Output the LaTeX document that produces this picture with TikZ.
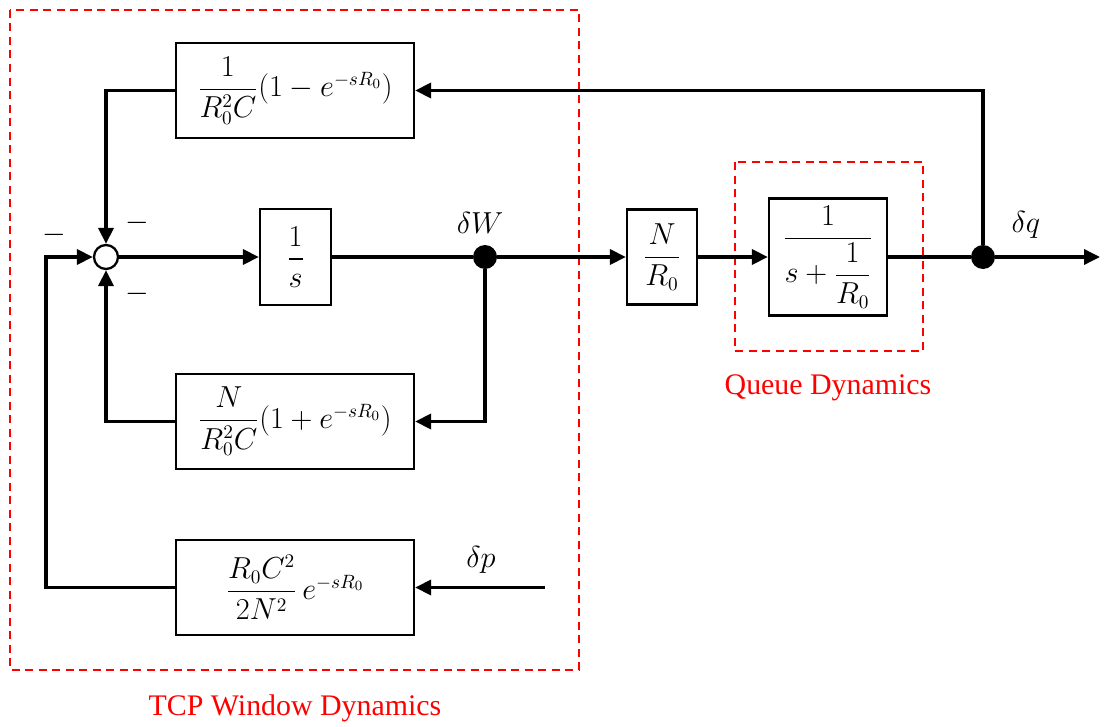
\documentclass[tikz,border=0pt]{standalone}
\usepackage{amsmath}
\usepackage{fontspec}
\newfontfamily\labelfont{Liberation Serif}
\usetikzlibrary{arrows.meta}

\tikzset{
  blk/.style={draw, line width=1.3pt, inner sep=0pt, font=\fontsize{16}{19}\selectfont},
  sig/.style={line width=2pt},
  arr/.style={sig, -{Triangle[length=3.2mm,width=3mm]}},
  pickoff/.style={circle, fill, inner sep=0pt, minimum size=4.8mm},
  redbox/.style={draw=red, line width=1.1pt, dash pattern=on 1.6mm off 1.1mm},
  redlabel/.style={text=red, font=\labelfont\fontsize{17}{20}\selectfont},
  signlabel/.style={font=\LARGE}
}

\begin{document}
\begin{tikzpicture}[x=0.2mm,y=-0.2mm]
\useasboundingbox (0,0) rectangle (1104,727);

% dashed frames
\draw[redbox] (10,10) rectangle (579,670);
\draw[redbox] (735,162) rectangle (923,351);
\node[redlabel] (tcplbl) at (295,708) {TCP Window Dynamics};
\node[redlabel] (queuelbl) at (828,388) {Queue Dynamics};

% forward path
\node[circle, draw, line width=1.3pt, fill=white, inner sep=0pt, minimum size=4.8mm] (sum) at (106,257) {};
\node[blk, minimum width=14.2mm, minimum height=19.2mm] (integ) at (295.5,257) {$\dfrac{1}{s}$};
\node[pickoff] (dW) at (485,257) {};
\node[blk, minimum width=14mm, minimum height=19mm] (gain) at (662,257) {$\dfrac{N}{R_0}$};
\node[blk, minimum width=23.6mm, minimum height=23.4mm] (queue) at (828,257) {$\dfrac{1}{s+\dfrac{1}{R_0}}$};
\node[pickoff] (dq) at (983,257) {};
\coordinate (out) at (1100,257);

% feedback blocks
\node[blk, minimum width=47.6mm, minimum height=19mm] (fbtop) at (295,90.5) {$\dfrac{1}{R_0^2C}(1-e^{-sR_0})$};
\node[blk, minimum width=47.6mm, minimum height=19mm] (fbmid) at (295,421.5) {$\dfrac{N}{R_0^2C}(1+e^{-sR_0})$};
\node[blk, minimum width=47.6mm, minimum height=19mm] (fbbot) at (295,587.5) {$\dfrac{R_0C^2}{2N^2}\,e^{-sR_0}$};
\coordinate (dp) at (545,587.5);
\coordinate (lft) at (46,587.5);

% signal labels
\node[font=\LARGE] (dWlbl) at (480,223) {$\delta W$};
\node[font=\LARGE] (dqlbl) at (1026,225) {$\delta q$};
\node[font=\LARGE] (dplbl) at (481,560) {$\delta p$};
\node[signlabel] (mleft) at (54,235) {$-$};
\node[signlabel] (mtop) at (137,223) {$-$};
\node[signlabel] (mbot) at (137,294) {$-$};

% connectors
\draw[arr] (sum) -- (integ);
\draw[sig] (integ) -- (dW);
\draw[arr] (dW) -- (gain);
\draw[arr] (gain) -- (queue);
\draw[sig] (queue) -- (dq);
\draw[arr] (dq) -- (out);
\draw[arr] (dq) |- (fbtop);
\draw[arr] (fbtop) -| (sum);
\draw[arr] (dW) |- (fbmid);
\draw[arr] (fbmid) -| (sum);
\draw[arr] (dp) -- (fbbot);
\draw[arr] (fbbot.west) -- (lft) |- (sum);
\end{tikzpicture}
\end{document}
